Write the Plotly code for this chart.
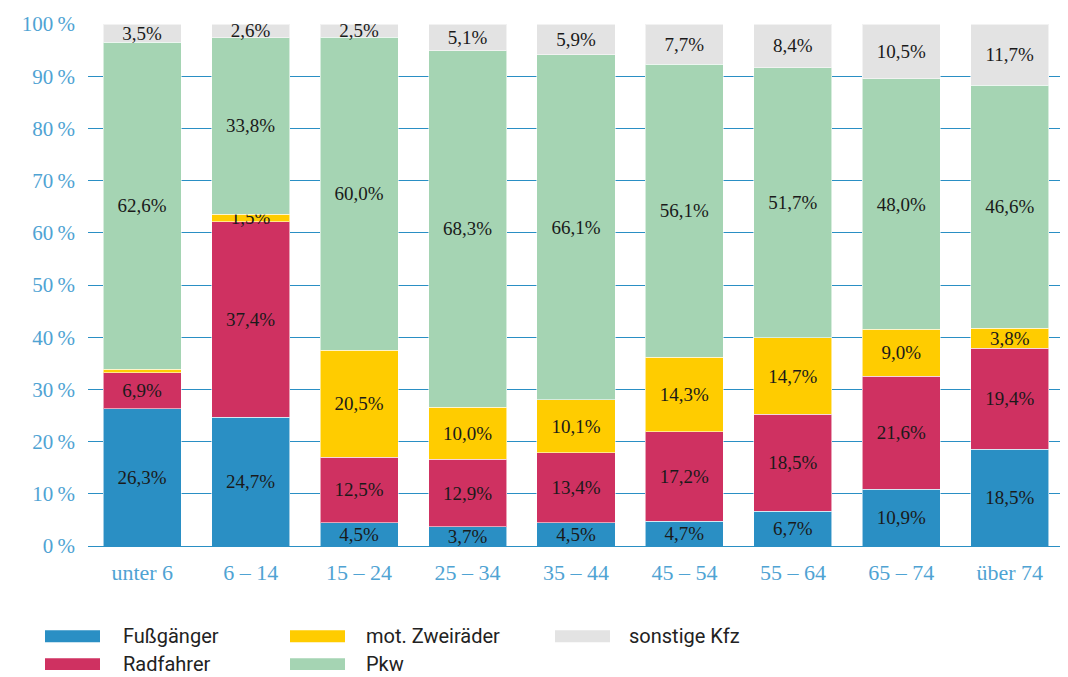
import plotly.graph_objects as go

categories = ["unter 6", "6 – 14", "15 – 24", "25 – 34", "35 – 44", "45 – 54", "55 – 64", "65 – 74", "über 74"]
fussgaenger = [26.3, 24.7, 4.5, 3.7, 4.5, 4.7, 6.7, 10.9, 18.5]
radfahrer = [6.9, 37.4, 12.5, 12.9, 13.4, 17.2, 18.5, 21.6, 19.4]
mot_zweiraeder = [0.7, 1.5, 20.5, 10.0, 10.1, 14.3, 14.7, 9.0, 3.8]
pkw = [62.6, 33.8, 60.0, 68.3, 66.1, 56.1, 51.7, 48.0, 46.6]
sonstige = [3.5, 2.6, 2.5, 5.1, 5.9, 7.7, 8.4, 10.5, 11.7]
# values shown as labels (None = no label)
mot_labels = [None, 1.5, 20.5, 10.0, 10.1, 14.3, 14.7, 9.0, 3.8]

y_ticks = [0, 10, 20, 30, 40, 50, 60, 70, 80, 90, 100]
y_ticktext = [f"{t}\u202f%" for t in y_ticks]

series = [
    ("Fußgänger", fussgaenger, fussgaenger, "#2a8fc4"),
    ("Radfahrer", radfahrer, radfahrer, "#cf3161"),
    ("mot. Zweiräder", mot_zweiraeder, mot_labels, "#ffcc00"),
    ("Pkw", pkw, pkw, "#a5d4b3"),
    ("sonstige Kfz", sonstige, sonstige, "#e3e3e3"),
]

def fmt(v):
    return "" if v is None else f"{v:.1f}".replace(".", ",") + "%"

fig = go.Figure()
for name, vals, labs, color in series:
    fig.add_trace(go.Bar(
        x=categories, y=vals, name=name,
        marker=dict(color=color, line=dict(color="rgba(255,255,255,0.55)", width=1)),
        text=[fmt(v) for v in labs],
        textposition="inside", insidetextanchor="middle", textangle=0,
        constraintext="none",
        textfont=dict(family="Liberation Serif, Times New Roman, serif", size=19, color="#1a1a1a"),
        hoverinfo="skip",
    ))

# page body has an 8px margin, so the figure is drawn 8px in from the top-left
OFF = 8
W, H = 1068 - OFF, 677 - OFF
L, T, R, B = 88 - OFF, 20 - OFF, 4, 131
pw, ph = W - L - R, H - T - B

def px_x(px):
    return (px - OFF - L) / pw

def px_y(py):
    return (H - B - (py - OFF)) / ph

legend_layout = [
    ("Fußgänger", "#2a8fc4", 45, 121, 637),
    ("Radfahrer", "#cf3161", 45, 121, 665),
    ("mot. Zweiräder", "#ffcc00", 290, 364, 637),
    ("Pkw", "#a5d4b3", 290, 364, 665),
    ("sonstige Kfz", "#e3e3e3", 555, 627, 637),
]
shapes = []
annotations = []
for name, color, sx, tx, cy in legend_layout:
    shapes.append(dict(type="rect", xref="paper", yref="paper",
                       x0=px_x(sx), x1=px_x(sx + 55), y0=px_y(cy - 6), y1=px_y(cy + 6),
                       fillcolor=color, line=dict(width=0)))
    annotations.append(dict(text=name, xref="paper", yref="paper", x=px_x(tx), y=px_y(cy),
                            xanchor="left", yanchor="middle", showarrow=False,
                            font=dict(family="Roboto, Liberation Sans, sans-serif", size=20, color="#222222")))

x_tick_font = dict(family="Liberation Serif, serif", size=22, color="#4fa3d3")
y_tick_font = dict(family="Liberation Serif, serif", size=21, color="#4fa3d3")

fig.update_layout(
    barmode="stack", bargap=0.28,
    width=W, height=H,
    margin=dict(l=L, r=R, t=T, b=B),
    plot_bgcolor="white", paper_bgcolor="white",
    showlegend=False,
    uniformtext=dict(minsize=19, mode="show"),
    shapes=shapes, annotations=annotations,
    xaxis=dict(showgrid=False, showline=False, ticks="", tickfont=x_tick_font,
               range=[-0.5, 8.5], ticklabelstandoff=11),
    yaxis=dict(range=[0, 100], tickvals=y_ticks, ticktext=y_ticktext, showgrid=True, gridcolor="#2a8fc4", gridwidth=1,
               zeroline=True, zerolinecolor="#2a8fc4", zerolinewidth=1, showline=False, ticks="",
               tickfont=y_tick_font, ticklabelstandoff=12, ticklabeloverflow="allow"),
)

fig.write_html("out.html")
